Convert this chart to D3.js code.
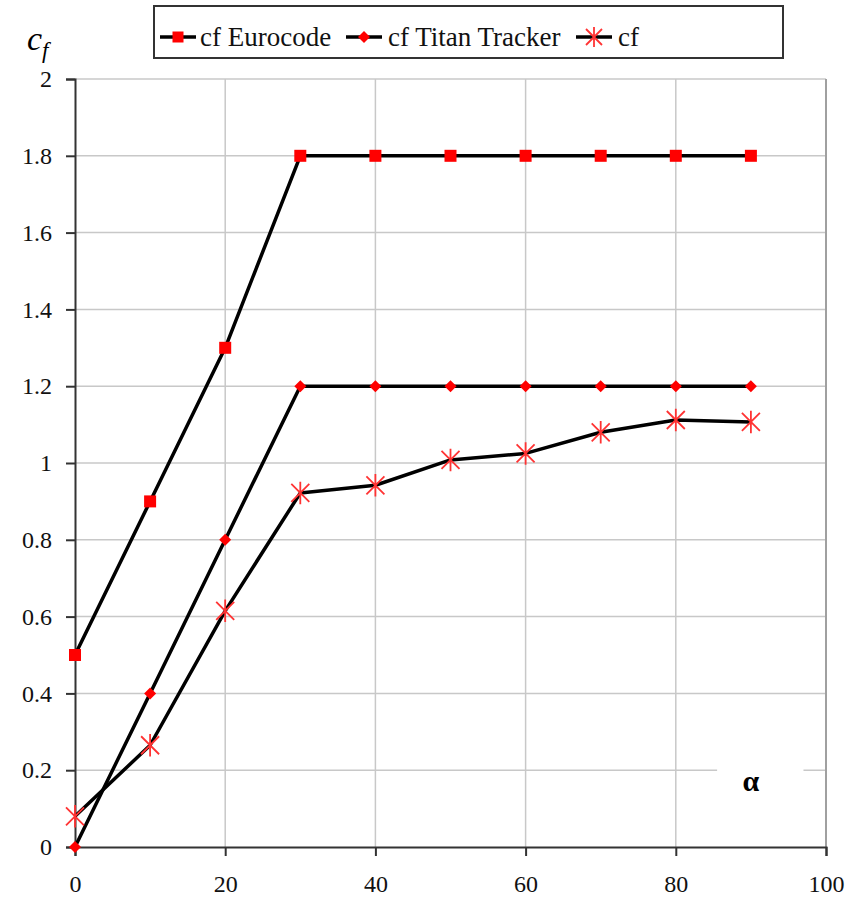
<!DOCTYPE html>
<html>
<head>
<meta charset="utf-8">
<script src="https://cdn.jsdelivr.net/npm/d3@7"></script>
<style>
  body { margin: 0; background: #fff; }
</style>
</head>
<body>
<div id="chart"></div>
<script>
var svgWidth = 858;
var svgHeight = 916;

var margin = { top: 79, right: 32, bottom: 69, left: 75 };
var width = svgWidth - margin.left - margin.right;
var height = svgHeight - margin.top - margin.bottom;
var fontName = "Liberation Serif";

// data
var alphaValues = [0, 10, 20, 30, 40, 50, 60, 70, 80, 90];
var eurocode = [0.5, 0.9, 1.3, 1.8, 1.8, 1.8, 1.8, 1.8, 1.8, 1.8];
var titan = [0, 0.4, 0.8, 1.2, 1.2, 1.2, 1.2, 1.2, 1.2, 1.2];
var cfMeasured = [0.08, 0.265, 0.615, 0.922, 0.942, 1.008, 1.025, 1.08, 1.112, 1.107];
var xTicks = [0, 20, 40, 60, 80, 100];
var yTicks = [0, 0.2, 0.4, 0.6, 0.8, 1, 1.2, 1.4, 1.6, 1.8, 2];
var seriesNames = ["cf Eurocode", "cf Titan Tracker", "cf"];

var svg = d3.select("#chart").append("svg")
  .attr("width", svgWidth)
  .attr("height", svgHeight)
  .style("font-family", fontName);

var chartGroup = svg.append("g")
  .attr("transform", `translate(${margin.left}, ${margin.top})`);

var x = d3.scaleLinear().domain([0, 100]).range([0, width]);
var y = d3.scaleLinear().domain([0, 2]).range([height, 0]);

// grid
chartGroup.selectAll(".hgrid")
  .data(yTicks.slice(1))
  .enter().append("line")
  .attr("x1", 0).attr("x2", width)
  .attr("y1", d => y(d)).attr("y2", d => y(d))
  .attr("stroke", "#c8c8c8").attr("stroke-width", 1.5);

chartGroup.selectAll(".vgrid")
  .data(xTicks.slice(1))
  .enter().append("line")
  .attr("x1", d => x(d)).attr("x2", d => x(d))
  .attr("y1", 0).attr("y2", height)
  .attr("stroke", d => d === 100 ? "#a0a0a0" : "#c8c8c8")
  .attr("stroke-width", d => d === 100 ? 2 : 1.5);

// white box behind the alpha label
chartGroup.append("rect")
  .attr("x", x(85.5)).attr("y", y(0.23))
  .attr("width", x(97) - x(85.5)).attr("height", y(0.1) - y(0.23))
  .attr("fill", "#fff");

chartGroup.append("text")
  .attr("x", x(90)).attr("y", y(0.145))
  .attr("text-anchor", "middle")
  .style("font-family", fontName)
  .attr("font-size", 30).attr("font-weight", "bold")
  .text("α");

// axes
var bottomAxis = d3.axisBottom(x).tickValues(xTicks).tickSize(9).tickPadding(14);
var leftAxis = d3.axisLeft(y).tickValues(yTicks).tickSize(9).tickPadding(14)
  .tickFormat(d3.format("~g"));

var xAxis = chartGroup.append("g")
  .attr("transform", `translate(0, ${height})`)
  .call(bottomAxis);
var yAxis = chartGroup.append("g").call(leftAxis);

[xAxis, yAxis].forEach(function(a) {
  a.attr("font-family", null).attr("font-size", null);
  a.select(".domain").attr("stroke", "#333").attr("stroke-width", 2);
  a.selectAll(".tick line").attr("stroke", "#333").attr("stroke-width", 2);
  a.selectAll(".tick text")
    .style("font-family", fontName)
    .attr("font-size", 24).attr("fill", "#111");
});
xAxis.selectAll(".tick text").attr("dy", "0.9em");

// lines
var line = d3.line()
  .x((d, i) => x(alphaValues[i]))
  .y(d => y(d));

[eurocode, titan, cfMeasured].forEach(function(s) {
  chartGroup.append("path")
    .datum(s)
    .attr("d", line)
    .attr("fill", "none")
    .attr("stroke", "#000")
    .attr("stroke-width", 3.5)
    .attr("stroke-linejoin", "round");
});

// markers
function square(g, cx, cy, s) {
  g.append("rect").attr("x", cx - s / 2).attr("y", cy - s / 2)
    .attr("width", s).attr("height", s).attr("fill", "#f00");
}
function diamond(g, cx, cy, s) {
  g.append("path")
    .attr("d", `M${cx},${cy - s} L${cx + s},${cy} L${cx},${cy + s} L${cx - s},${cy} Z`)
    .attr("fill", "#f00");
}
function star(g, cx, cy, s) {
  var p = `M${cx - s},${cy - s} L${cx + s},${cy + s} M${cx - s},${cy + s} L${cx + s},${cy - s} M${cx},${cy - s * 1.25} L${cx},${cy + s * 1.25}`;
  g.append("path").attr("d", p)
    .attr("stroke", "#f33").attr("stroke-width", 1.8).attr("fill", "none");
}

eurocode.forEach((v, i) => square(chartGroup, x(alphaValues[i]), y(v), 12));
titan.forEach((v, i) => diamond(chartGroup, x(alphaValues[i]), y(v), 6));
cfMeasured.forEach((v, i) => star(chartGroup, x(alphaValues[i]), y(v), 9));

// y label c_f
var yLabel = svg.append("text")
  .attr("x", 27).attr("y", 50)
  .style("font-family", fontName)
  .attr("font-size", 34).attr("font-style", "italic");
yLabel.append("tspan").text("c");
yLabel.append("tspan").attr("font-size", 23).attr("dy", 8).text("f");

// legend
var legend = svg.append("g");
legend.append("rect")
  .attr("x", 154).attr("y", 6).attr("width", 629).attr("height", 52)
  .attr("fill", "#fff").attr("stroke", "#333").attr("stroke-width", 2);

var legendX = [160, 346, 576];
var legendText = [200, 388, 618];
seriesNames.forEach(function(name, i) {
  var ly = 37;
  legend.append("line")
    .attr("x1", legendX[i]).attr("x2", legendX[i] + 36)
    .attr("y1", ly).attr("y2", ly)
    .attr("stroke", "#000").attr("stroke-width", 3.5);
  var cx = legendX[i] + 18;
  if (i === 0) square(legend, cx, ly, 11);
  else if (i === 1) diamond(legend, cx, ly, 6);
  else star(legend, cx, ly, 8);
  legend.append("text")
    .attr("x", legendText[i]).attr("y", ly + 9)
    .style("font-family", fontName)
    .attr("font-size", 27).attr("fill", "#111")
    .text(name);
});
</script>
</body>
</html>
